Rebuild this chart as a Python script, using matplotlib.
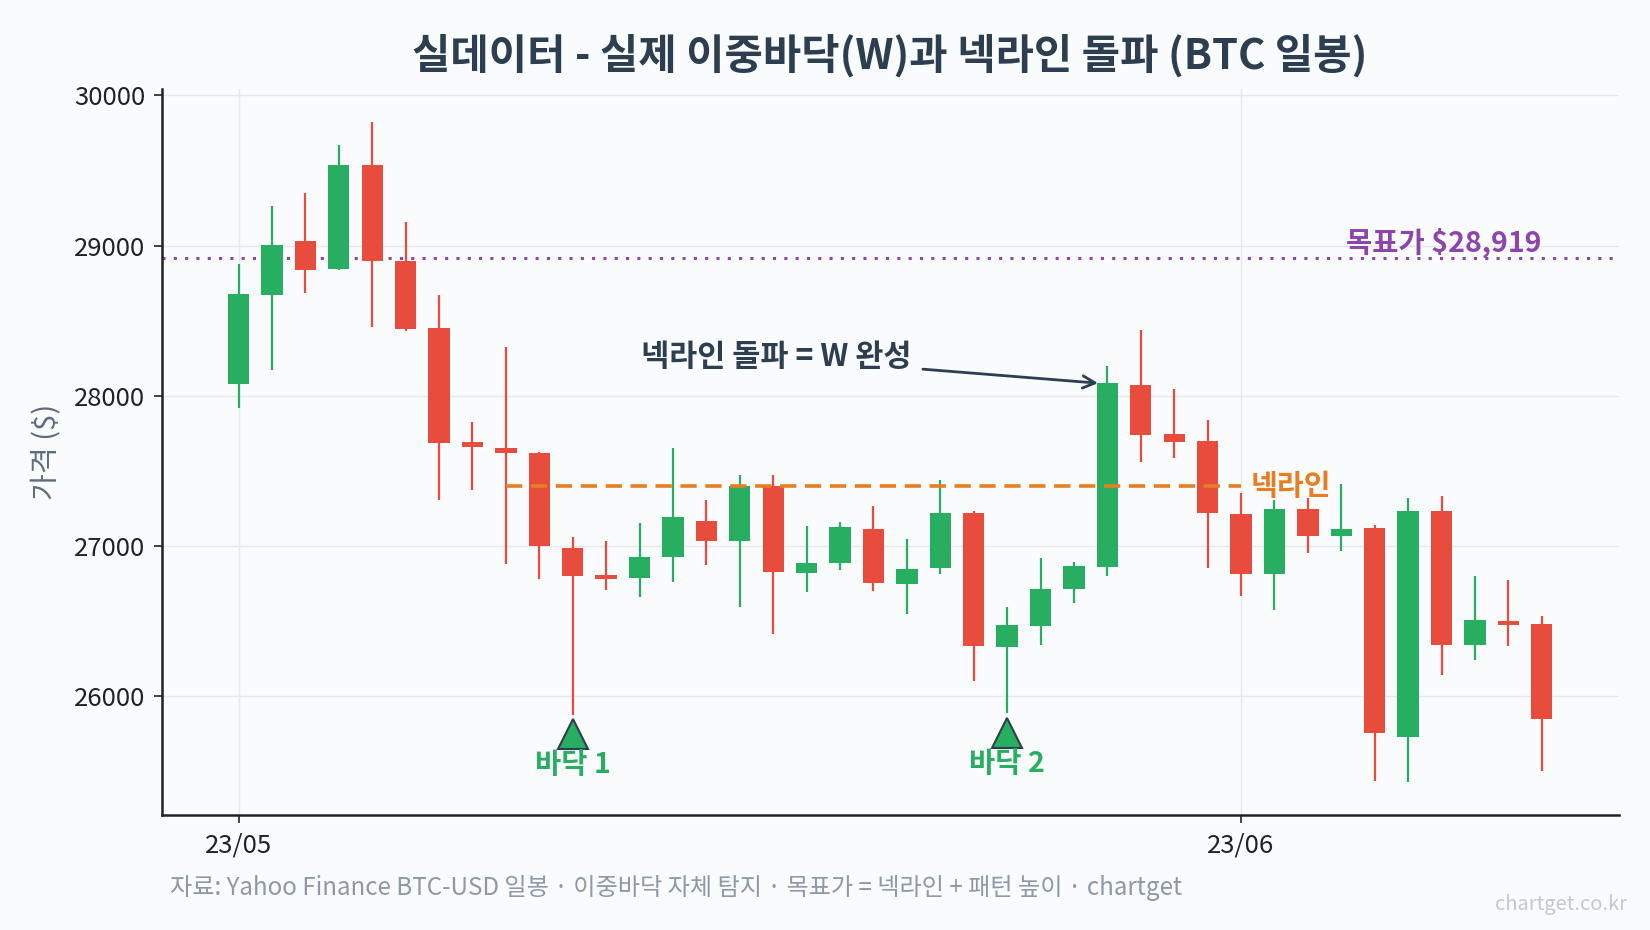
import matplotlib
matplotlib.use('Agg')
import matplotlib.pyplot as plt
import numpy as np
import pandas as pd

plt.rcParams['font.family'] = ['Noto Sans CJK KR', 'DejaVu Sans']

# ---------------- data ----------------
dates = pd.date_range('2023-05-02', periods=40, freq='D')
opens = [28081, 28673, 29027, 28844, 29533, 28896, 28450, 27693, 27654, 27620,
         26989, 26809, 26784, 26925, 27169, 27031, 27400, 26818, 26885, 27114,
         26744, 26851, 27220, 26327, 26467, 26711, 26863, 28072, 27745, 27696,
         27214, 26815, 27248, 27068, 27123, 25728, 27236, 26339, 26500, 26482]
highs = [28877, 29262, 29353, 29670, 29823, 29158, 28670, 27825, 28325, 27626,
         27062, 27034, 27153, 27654, 27306, 27474, 27474, 27135, 27159, 27269,
         27047, 27440, 27230, 26595, 26921, 26894, 28197, 28435, 28047, 27837,
         27352, 27306, 27321, 27413, 27138, 27321, 27333, 26802, 26775, 26537]
lows = [27916, 28172, 28685, 28838, 28459, 28432, 27306, 27373, 26879, 26781,
        25878, 26708, 26659, 26760, 26876, 26592, 26412, 26693, 26839, 26702,
        26546, 26812, 26101, 25887, 26339, 26619, 26799, 27556, 27584, 26857,
        26665, 26574, 26952, 26964, 25439, 25430, 26140, 26241, 26333, 25500]
closes = [28676, 29005, 28838, 29533, 28899, 28447, 27687, 27657, 27617, 26998,
          26799, 26778, 26928, 27193, 27031, 27400, 26824, 26888, 27129, 26751,
          26848, 27220, 26333, 26476, 26717, 26870, 28084, 27742, 27693, 27217,
          26812, 27248, 27068, 27114, 25756, 27236, 26339, 26510, 26473, 25851]

bottom_idx = [10, 23]
bottom_labels = ['바닥 1', '바닥 2']
breakout_idx = 26
neck_start, neck_end = 8, 30
neckline = 27399
target = 28919

title = '실데이터 - 실제 이중바닥(W)과 넥라인 돌파 (BTC 일봉)'
source = '자료: Yahoo Finance BTC-USD 일봉 · 이중바닥 자체 탐지 · 목표가 = 넥라인 + 패턴 높이 · chartget'

# ---------------- style ----------------
GREEN = '#27ae60'
RED = '#e74c3c'
DARK = '#2c3e50'
ORANGE = '#e67e22'
PURPLE = '#8e44ad'
BG = '#f9fbfd'

fig = plt.figure(figsize=(16.5, 9.3), dpi=100, facecolor=BG)
ax = fig.add_axes([0.098, 0.124, 0.883, 0.780])
ax.set_facecolor(BG)

o = np.array(opens, float)
h = np.array(highs, float)
l = np.array(lows, float)
c = np.array(closes, float)
x = np.arange(len(o))
cols = [GREEN if cc >= oo else RED for oo, cc in zip(o, c)]

ax.vlines(x, l, h, colors=cols, linewidth=1.6, zorder=3)
ax.bar(x, np.abs(c - o), bottom=np.minimum(o, c), width=0.64, color=cols,
       edgecolor='none', zorder=4)

# neckline
ax.plot([neck_start, neck_end], [neckline, neckline], color=ORANGE, lw=2.6,
        ls=(0, (4.5, 2.4)), zorder=5)
ax.text(neck_end + 0.3, neckline, '넥라인', color=ORANGE, fontsize=21,
        fontweight='bold', ha='left', va='center', zorder=6)

# target
ax.axhline(target, color=PURPLE, lw=2.2, ls=(0, (1, 2.7)), zorder=2)
ax.text(len(o) - 1, target + 95, f'목표가 ${target:,.0f}', color=PURPLE,
        fontsize=20.5, fontweight='bold', ha='right', va='center', zorder=6)

# bottoms
for bi, lab in zip(bottom_idx, bottom_labels):
    ax.plot(bi, l[bi] * 0.995, marker='^', ms=21, color=GREEN,
            markeredgecolor=DARK, markeredgewidth=1.5, zorder=7)
    ax.text(bi, l[bi] * 0.9870, lab, color=GREEN, fontsize=20.5,
            fontweight='bold', ha='center', va='center', zorder=7)

# breakout annotation
ax.annotate('넥라인 돌파 = W 완성', xy=(breakout_idx - 0.28, c[breakout_idx]),
            xytext=(16.1, 28255), fontsize=22, fontweight='bold', color=DARK,
            ha='center', va='center',
            arrowprops=dict(arrowstyle='->', color=DARK, lw=2,
                            mutation_scale=22, shrinkA=6, shrinkB=0),
            zorder=8)

# axes
ax.set_xlim(-2.3, 41.3)
ax.set_ylim(25212, 30040)
month_start = [i for i in range(len(dates)) if i == 0 or dates[i].month != dates[i - 1].month]
ax.set_xticks(month_start)
ax.set_xticklabels([dates[i].strftime('%y/%m') for i in month_start])
ax.set_yticks([26000, 27000, 28000, 29000, 30000])
ax.set_yticklabels(['26000', '27000', '28000', '29000', '30000'])
ax.tick_params(axis='both', labelsize=18.5, colors='#222222', length=6, width=1.2)
ax.tick_params(axis='x', pad=7)
ax.tick_params(axis='y', pad=6)
ax.set_ylabel('가격 ($)', fontsize=21, color='#5d6d7e', labelpad=8)

ax.grid(True, color='#e6e8ec', lw=1, zorder=0)
ax.set_axisbelow(True)
for s in ['top', 'right']:
    ax.spines[s].set_visible(False)
for s in ['left', 'bottom']:
    ax.spines[s].set_color('#222222')
    ax.spines[s].set_linewidth(1.8)

ax.set_title(title, fontsize=30, fontweight='bold', color=DARK, pad=15)

fig.text(0.103, 0.045, source, fontsize=17.4, color='#8f98a8', ha='left', va='center')
fig.text(0.986, 0.027, 'chartget.co.kr', fontsize=14.5, color='#c3c8cf', ha='right', va='center')

fig.savefig('out.png', dpi=100, facecolor=BG)
